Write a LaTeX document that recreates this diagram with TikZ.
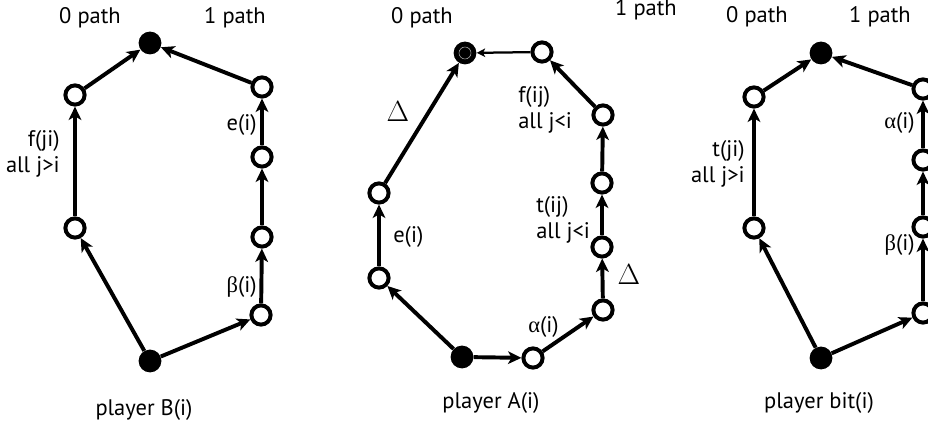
\documentclass[tikz,border=0pt]{standalone}
\usepackage{fontspec}
\setmainfont{PT Sans}
\newfontfamily\grk{Liberation Serif}
\usetikzlibrary{arrows.meta}

\begin{document}
\begin{tikzpicture}[x=0.025cm, y=-0.025cm,
    hole/.style = {circle, draw, line width=2.8pt, fill=white,
        inner sep=0pt, minimum size=0.48cm},
    dot/.style = {circle, fill=black, inner sep=0pt,
        minimum size=0.57cm},
    edge/.style = {line width=2.8pt,
        -{Stealth[length=9.5pt,width=9pt,inset=2.5pt]}},
    thinedge/.style = {line width=1.6pt,
        -{Stealth[length=6pt,width=6pt,inset=1.5pt]}},
    lbl/.style = {font=\fontsize{16}{19}\selectfont, inner sep=0pt},
    delta/.style = {font=\fontsize{22}{24}\selectfont, inner sep=0pt}]

\clip (0,0) rectangle (928,425);

% Player B(i)
\node[dot] (Btop) at (150,43) {};
\node[dot] (Bbot) at (150,361) {};
\node[hole] (B0a) at (75,228) {};
\node[hole] (B0b) at (75,95) {};
\node[hole] (B1a) at (261,315) {};
\node[hole] (B1b) at (262,237) {};
\node[hole] (B1c) at (262,157) {};
\node[hole] (B1d) at (262,87) {};
\foreach \a/\b in {Bbot/B0a, B0a/B0b, B0b/Btop,
    Bbot/B1a, B1a/B1b, B1b/B1c, B1c/B1d, B1d/Btop}
    \draw[edge] (\a) -- (\b);

\node[lbl] (Bzero) at (90,18) {0 path};
\node[lbl] (Bone) at (235,18) {1 path};
\node[lbl, anchor=east, align=right] (Bf) at (60,154) {f(ji)\\all j>i};
\node[lbl, anchor=east] (Be) at (257,125) {e(i)};
\node[lbl, anchor=east] (Bbeta) at (257,287) {{\grk β}(i)};
\node[lbl] (Bname) at (144,410) {player B(i)};

% Player A(i)
\node[dot] (Atop) at (465,53) {};
\draw[gray!70, thin] (Atop.center) circle (6);
\node[dot] (Abot) at (462,357) {};
\node[hole] (A0a) at (379,278) {};
\node[hole] (A0b) at (379,193) {};
\node[hole] (A1a) at (533,358) {};
\node[hole] (A1b) at (603,310) {};
\node[hole] (A1c) at (602,247) {};
\node[hole] (A1d) at (602,183) {};
\node[hole] (A1e) at (603,115) {};
\node[hole] (A1f) at (542,52) {};
\foreach \a/\b in {Abot/A0a, A0a/A0b, A0b/Atop,
    Abot/A1a, A1a/A1b, A1b/A1c, A1c/A1d, A1d/A1e, A1e/A1f}
    \draw[edge] (\a) -- (\b);
\draw[thinedge] (A1f) -- (Atop);

\node[lbl] (Azero) at (422,18) {0 path};
\node[lbl] (Aone) at (646,10) {1 path};
\node[delta] (Ad1) at (398,112) {$\Delta$};
\node[delta] (Ad2) at (629,275) {$\Delta$};
\node[lbl, anchor=west] (Ae) at (393,237) {e(i)};
\node[lbl, anchor=west, align=left] (Af) at (518,110) {f(ij)\\all j<i};
\node[lbl, anchor=west, align=left] (At) at (536,220) {t(ij)\\all j<i};
\node[lbl, anchor=west] (Aalpha) at (528,327) {{\grk α}(i)};
\node[lbl] (Aname) at (491,403) {player A(i)};

% Player bit(i)
\node[dot] (Ttop) at (821,53) {};
\node[dot] (Tbot) at (821,358) {};
\node[hole] (T0a) at (754,228) {};
\node[hole] (T0b) at (754,97) {};
\node[hole] (T1a) at (923,313) {};
\node[hole] (T1b) at (923,227) {};
\node[hole] (T1c) at (923,160) {};
\node[hole] (T1d) at (923,89) {};
\foreach \a/\b in {Tbot/T0a, T0a/T0b, T0b/Ttop,
    Tbot/T1a, T1a/T1b, T1b/T1c, T1c/T1d, T1d/Ttop}
    \draw[edge] (\a) -- (\b);

\node[lbl] (Tzero) at (757,17) {0 path};
\node[lbl] (Tone) at (880,17) {1 path};
\node[lbl, anchor=east, align=right] (Tt) at (745,164) {t(ji)\\all j>i};
\node[lbl, anchor=east] (Talpha) at (915,123) {{\grk α}(i)};
\node[lbl, anchor=east] (Tbeta) at (915,245) {{\grk β}(i)};
\node[lbl] (Tname) at (819,403) {player bit(i)};
\end{tikzpicture}
\end{document}
